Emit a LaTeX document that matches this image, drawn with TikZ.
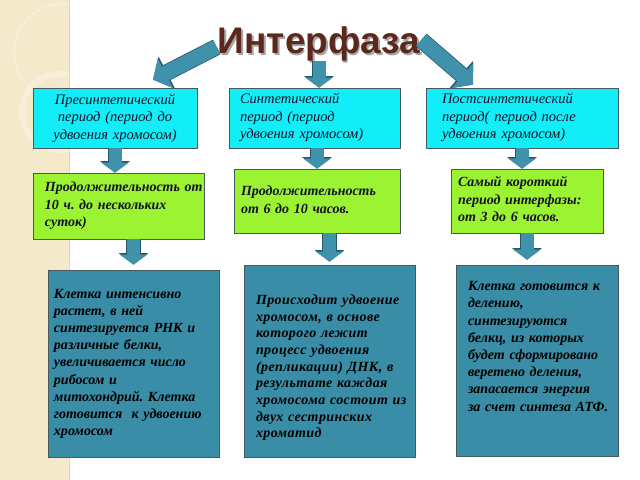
\documentclass[tikz,border=0pt]{standalone}
\usepackage{fontspec}
\setmainfont{Liberation Serif}
\newfontfamily\titlefont{Liberation Sans}
\definecolor{titlebrown}{RGB}{92,40,28}
\definecolor{boxcyan}{RGB}{18,238,248}
\definecolor{boxgreen}{RGB}{155,243,50}
\definecolor{boxteal}{RGB}{58,141,166}
\definecolor{boxedge}{RGB}{70,90,95}
\definecolor{arrowteal}{RGB}{64,146,170}
\definecolor{arrowedge}{RGB}{38,88,108}
\definecolor{stripbeige}{RGB}{245,233,203}
\definecolor{inkblue}{RGB}{18,18,40}
\usetikzlibrary{arrows.meta,positioning,calc}
\frenchspacing

\newcommand{\rows}[1]{\begin{tabular}{@{}l@{}}#1\end{tabular}}

\begin{document}
\begin{tikzpicture}[x=1bp,y=-1bp,
    box/.style={draw=boxedge,line width=0.7bp,inner ysep=0pt,text=inkblue,align=left},
    phase/.style={box,fill=boxcyan,minimum height=60bp,
        font=\fontsize{14.5bp}{17.5bp}\selectfont\itshape},
    span/.style={box,fill=boxgreen,
        font=\fontsize{14bp}{17.5bp}\selectfont\bfseries\itshape},
    event/.style={box,fill=boxteal,text=black,
        font=\fontsize{14bp}{17.2bp}\selectfont\bfseries\itshape},
    flow/.style={arrowteal,line width=13bp,-{Triangle[width=27bp,length=10bp]},
        preaction={draw=arrowedge,line width=14.5bp,-{Triangle[width=29bp,length=11.5bp]}}},
    bigflow/.style={arrowteal,line width=15bp,-{Triangle[width=33bp,length=14bp]},
        preaction={draw=arrowedge,line width=16.5bp,-{Triangle[width=35bp,length=15.5bp]}}}]
    \useasboundingbox (0,0) rectangle (640,480);
    \fill[white] (0,0) rectangle (640,480);
    \begin{scope}
        \clip (0,0) rectangle (69,480);
        \fill[stripbeige] (0,0) rectangle (69,480);
        \draw[white,opacity=0.4,line width=1bp] (62,52) circle (48);
        \draw[white,opacity=0.3,line width=6bp] (60,112) circle (38);
    \end{scope}
    \draw[stripbeige!80!brown,line width=0.6bp] (69,0) -- (69,480);

    \node[font=\titlefont\fontsize{37bp}{40bp}\selectfont\bfseries,text=gray!70]
        at (320.5,45.5) {Интерфаза};
    \node[font=\titlefont\fontsize{37bp}{40bp}\selectfont\bfseries,text=titlebrown,inner sep=0pt]
        (title) at (319,44) {Интерфаза};

    \node[phase,text width=156bp,inner xsep=4bp,align=center] (pre) at (115,118)
        {Пресинтетический\\ период (период до\\ удвоения хромосом)};
    \node[phase,text width=149bp,inner xsep=11bp] (syn) at (314.5,118)
        {\rows{Синтетический\\ период (период\\ удвоения хромосом)}};
    \node[phase,text width=160bp,inner xsep=16bp] (post) at (522,118)
        {\rows{Постсинтетический\\ период( период после\\ удвоения хромосом)}};

    \node[span,text width=147bp,inner xsep=12bp,minimum height=66bp] (dur1) at (118.5,206)
        {\rows{Продолжительность от\\ 10 ч. до нескольких\\ суток)}};
    \node[span,text width=152bp,inner xsep=7bp,minimum height=64bp] (dur2) at (317,201)
        {\rows{Продолжительность\\ от 6 до 10 часов.}};
    \node[span,text width=138bp,inner xsep=7bp,minimum height=64bp] (dur3) at (527,201)
        {\rows{Самый короткий\\ период интерфазы:\\ от 3 до 6 часов.}};

    \node[event,text width=159bp,inner xsep=6bp,minimum height=187bp] (grow) at (133.5,363.5)
        {\rows{Клетка интенсивно\\ растет, в ней\\ синтезируется РНК и\\ различные белки,\\
        увеличивается число\\ рибосом и\\ митохондрий. Клетка\\ готовится~ к удвоению\\ хромосом}};
    \node[event,text width=147bp,inner xsep=12bp,minimum height=192bp,
        font=\fontsize{14bp}{16.7bp}\selectfont\bfseries\itshape\addfontfeature{LetterSpace=3}]
        (copy) at (329.5,361)
        {\rows{~\\[-3bp] Происходит удвоение\\ хромосом, в основе\\ которого лежит\\ процесс удвоения\\
        (репликации) ДНК, в\\ результате каждая\\ хромосома состоит из\\ двух сестринских\\ хроматид}};
    \node[event,text width=138bp,inner xsep=12bp,minimum height=191bp] (prep) at (537,360.5)
        {\rows{Клетка готовится к\\ делению,\\ синтезируются\\ белкц, из которых\\
        будет сформировано\\ веретено деления,\\ запасается энергия\\ за счет синтеза АТФ.\\[9bp] ~}};

    \draw[bigflow] ($(title.west)+(-1,3)$) -- ($(pre.north)+(38,-8)$);
    \draw[flow] (title.south) -- (title.south |- syn.north);
    \draw[bigflow] ($(title.east)+(1,-4)$) -- ($(post.north)+(-49,-3)$);

    \draw[flow] (pre.south) -- (pre.south |- dur1.north);
    \draw[flow] (syn.south -| dur2.north) -- (dur2.north);
    \draw[flow] (post.south) -- (post.south |- dur3.north);

    \draw[flow,shorten >=5bp] (dur1.south -| grow.north) -- (grow.north);
    \draw[flow,shorten >=3bp] (dur2.south -| copy.north) -- (copy.north);
    \draw[flow,shorten >=5bp] (dur3.south) -- (dur3.south |- prep.north);
\end{tikzpicture}
\end{document}
